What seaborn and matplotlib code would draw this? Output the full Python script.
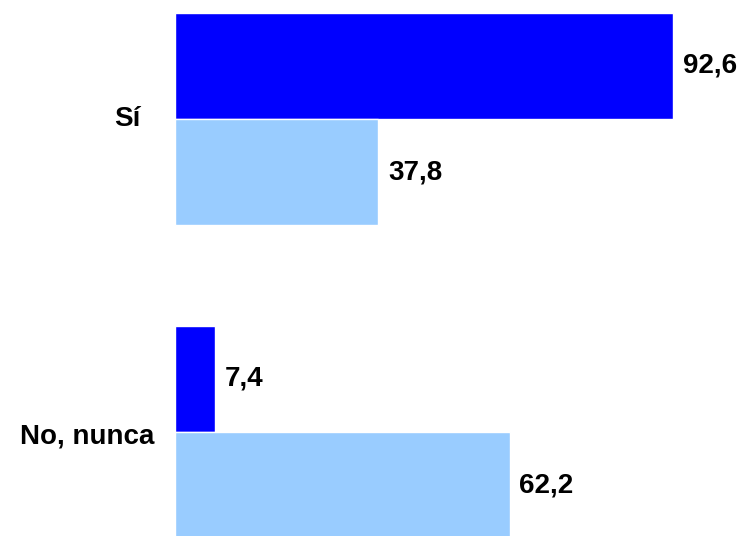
import pandas as pd
import seaborn as sns
import matplotlib.pyplot as plt

categories = ['Sí', 'No, nunca']
series = ['Serie 1', 'Serie 2']
values_1 = [92.6, 7.4]
values_2 = [37.8, 62.2]
colors = ['#0000ff', '#99ccff']

df = pd.DataFrame({
    'cat': categories * 2,
    'serie': [series[0]] * 2 + [series[1]] * 2,
    'val': values_1 + values_2,
})

sns.set_style('white')
plt.rcParams['font.family'] = ['Liberation Sans', 'DejaVu Sans']
plt.rcParams['text.color'] = 'black'

fig = plt.figure(figsize=(7.42, 5.36), dpi=100)
ax = fig.add_axes([175 / 742, 0, 567 / 742, 1])

sns.barplot(data=df, x='val', y='cat', hue='serie', order=categories,
            hue_order=series, palette=colors, saturation=1, orient='h', width=0.68,
            edgecolor='white', linewidth=1, legend=False, ax=ax)

for cont in ax.containers:
    labs = [f'{v:.1f}'.replace('.', ',') for v in cont.datavalues]
    ax.bar_label(cont, labels=labs, padding=7, fontsize=20, fontweight='bold',
                 color='black')

ax.set_xlim(0, 105.4)
ax.set_ylim(1.332, -0.380)
ax.set_xlabel('')
ax.set_ylabel('')
ax.set_xticks([])
ax.set_yticks([])
for s in ax.spines.values():
    s.set_visible(False)

# category labels on the left
ax.text(-6.5, 0, categories[0], ha='right', va='center', fontsize=20,
        fontweight='bold', color='black')
ax.text(-3.8, 1.015, categories[1], ha='right', va='center', fontsize=20,
        fontweight='bold', color='black')

fig.savefig('out.png', dpi=100)
